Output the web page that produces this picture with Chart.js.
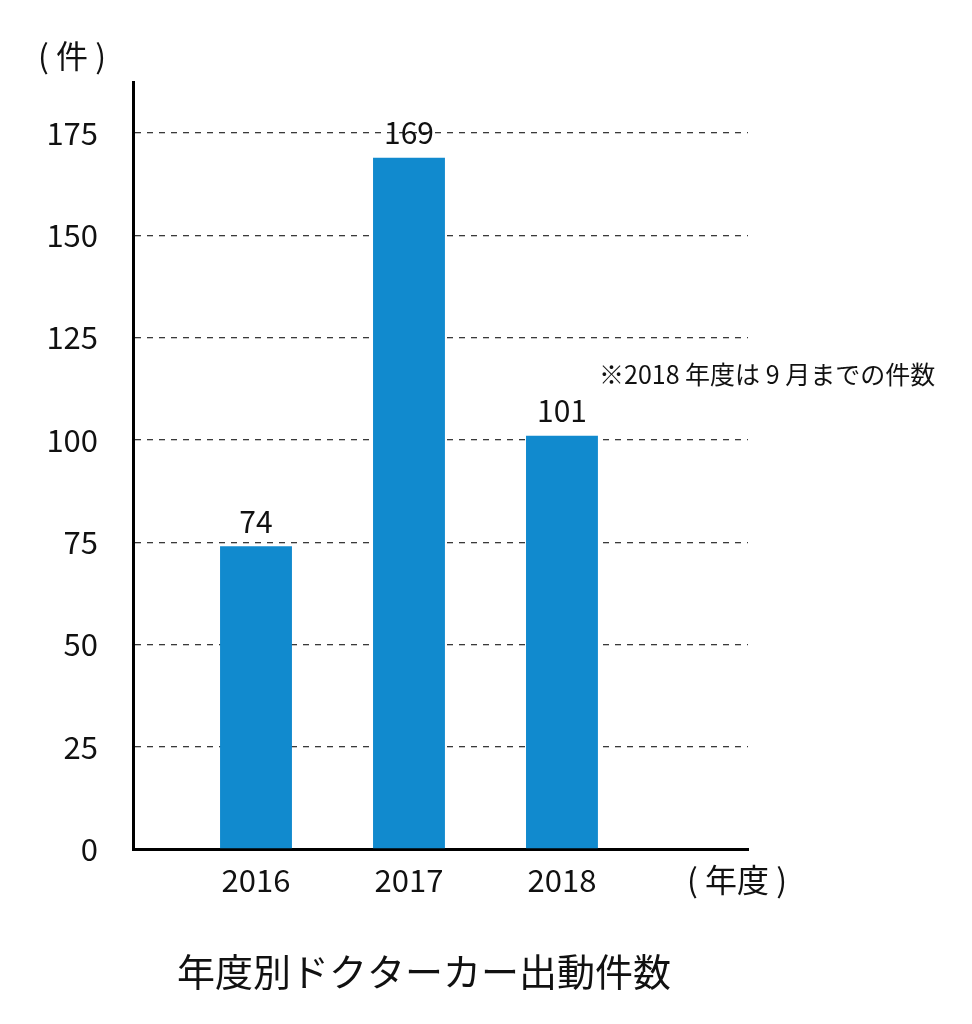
<!DOCTYPE html>
<html>
<head>
<meta charset="utf-8">
<script src="https://cdn.jsdelivr.net/npm/chart.js@4"></script>
<style>
  body { margin: 0; background: #fff; }
  #chart { display: block; }
</style>
</head>
<body>
<canvas id="chart" width="972" height="1024"></canvas>
<script>
const years = [2016, 2017, 2018];
const counts = [74, 169, 101];
const yTicks = [0, 25, 50, 75, 100, 125, 150, 175];

const chartTitle = '年度別ドクターカー出動件数';
const yUnit = '( 件 )';
const xUnit = '( 年度 )';
const note = '※2018 年度は 9 月までの件数';

const font = '"Noto Sans CJK JP", "Noto Sans", sans-serif';

// value labels above each bar + the free texts around the plot
const textPlugin = {
    id: 'texts',
    afterDatasetsDraw(chart) {
        const ctx = chart.ctx;
        ctx.save();
        ctx.fillStyle = '#111';
        ctx.textAlign = 'center';
        ctx.textBaseline = 'bottom';
        ctx.font = '30px ' + font;
        chart.getDatasetMeta(0).data.forEach((bar, i) => {
            ctx.fillText(counts[i], bar.x, bar.y - 10);
        });

        ctx.textBaseline = 'middle';
        ctx.font = '32px ' + font;
        ctx.fillText(yUnit, 72, 56);
        ctx.fillText(xUnit, 737, 880);

        ctx.font = '38px ' + font;
        ctx.fillText(chartTitle, 424, 972);

        ctx.textAlign = 'left';
        ctx.font = '25px ' + font;
        ctx.fillText(note, 599, 374);
        ctx.restore();
    }
};

const ctx = document.getElementById('chart').getContext('2d');
const chart = new Chart(ctx, {
    type: 'bar',
    data: {
        datasets: [{
            data: years.map((y, i) => ({ x: y, y: counts[i] })),
            backgroundColor: '#118ace',
            categoryPercentage: 1,
            barPercentage: 0.47
        }]
    },
    options: {
        responsive: false,
        animation: false,
        devicePixelRatio: 1,
        layout: { padding: { top: 82, right: 224, left: 0, bottom: 0 } },
        plugins: {
            legend: { display: false },
            tooltip: { enabled: false }
        },
        scales: {
            x: {
                type: 'linear',
                offset: false,
                min: 2015.196,
                max: 2019.216,
                afterFit: s => { s.height = 175; },
                grid: { display: false, drawTicks: false, offset: false },
                border: { display: true, width: 3, color: '#000' },
                ticks: {
                    stepSize: 1,
                    includeBounds: false,
                    padding: 13,
                    color: '#111',
                    font: { family: font, size: 31 },
                    callback: v => years.includes(v) ? String(v) : ''
                }
            },
            y: {
                min: 0,
                max: 187.5,
                afterFit: s => { s.width = 133; },
                afterBuildTicks: s => { s.ticks = yTicks.map(v => ({ value: v })); },
                grid: {
                    drawTicks: false,
                    color: c => c.tick && c.tick.value === 0 ? 'rgba(0,0,0,0)' : '#3a3a3a',
                    lineWidth: 1.3
                },
                border: { display: true, width: 3, color: '#000', dash: [6, 6] },
                ticks: {
                    padding: 35,
                    color: '#111',
                    font: { family: font, size: 31 }
                }
            }
        }
    },
    plugins: [textPlugin]
});
</script>
</body>
</html>
